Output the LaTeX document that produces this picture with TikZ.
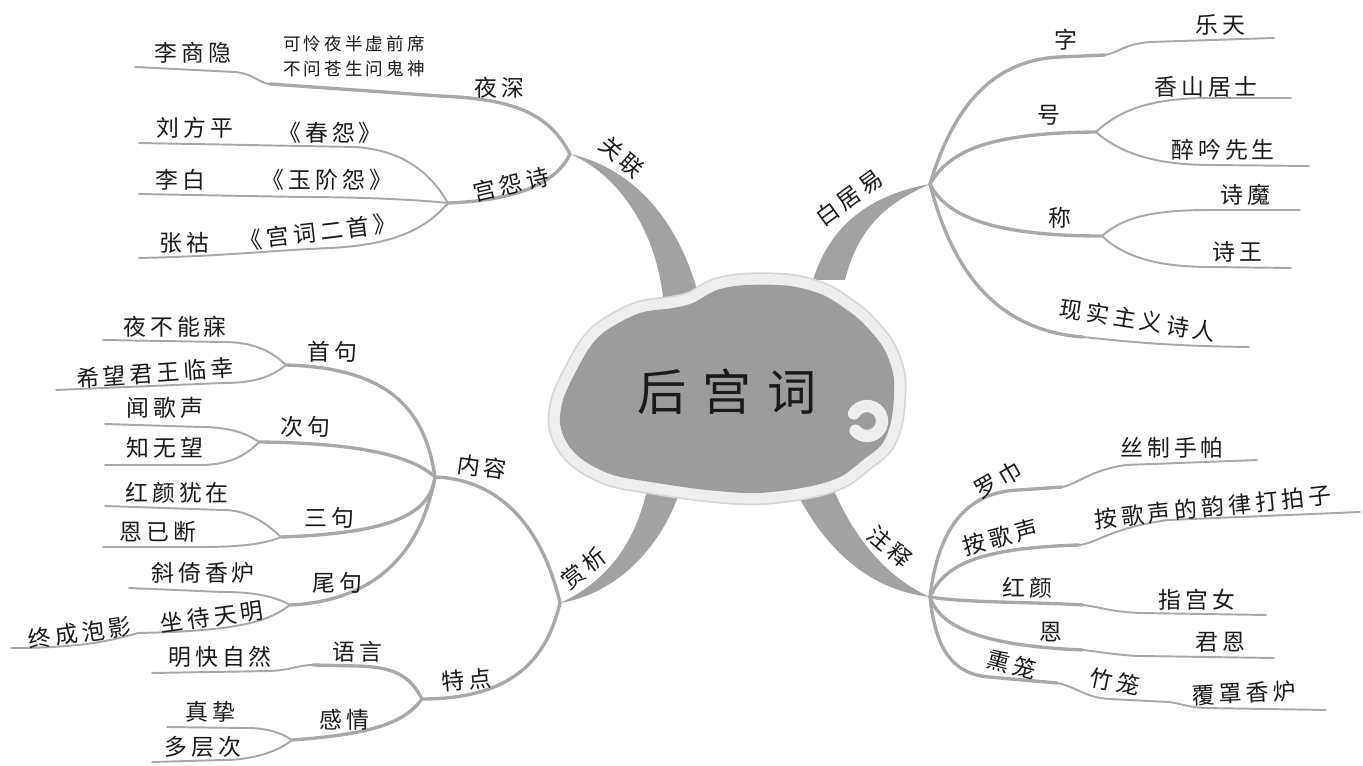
\documentclass[tikz,border=0pt]{standalone}
\usepackage{fontspec}
\usepackage{tikz}
\newfontfamily\cjk[LetterSpace=18]{Noto Sans CJK SC}
\newfontfamily\cjkbig[LetterSpace=32]{Noto Sans CJK SC}
\definecolor{Ink}{HTML}{1A1A1A}
\definecolor{Branch}{HTML}{A8A8A8}
\definecolor{Trunk}{HTML}{A2A2A2}
\definecolor{Cloud}{HTML}{9C9C9C}
\definecolor{Halo}{HTML}{EEEEEE}
\definecolor{HaloEdge}{HTML}{D6D6D6}

\tikzset{
    lbl/.style={font=\cjk\fontsize{13}{15}\selectfont, text=Ink, inner sep=1pt},
    poem/.style={font=\cjk\fontsize{10}{14}\selectfont, text=Ink, inner sep=1pt, align=center},
    title/.style={font=\cjkbig\fontsize{28}{32}\selectfont, text=Ink, inner sep=2pt},
    sub/.style={draw=Branch, line width=1.9pt, line cap=round},
    leaf/.style={draw=Branch, line width=1.1pt, line cap=round},
    trunk/.style={fill=Trunk},
}

\begin{document}
\begin{tikzpicture}[x=0.02cm, y=-0.02cm]
    \useasboundingbox (0,0) rectangle (1363,766);

    % branch points
    \coordinate (jGL) at (570,154);
    \coordinate (jYS) at (270,84);
    \coordinate (jGYS) at (448,203);
    \coordinate (jBJY) at (930,184);
    \coordinate (jZi) at (1105,55);
    \coordinate (jHao) at (1096,132);
    \coordinate (jCheng) at (1102,236);
    \coordinate (jXSZ) at (1083,337);
    \coordinate (jZS) at (930,597);
    \coordinate (jLJ) at (1062,487);
    \coordinate (jAG) at (1079,545);
    \coordinate (jHY) at (1083,605);
    \coordinate (jEn) at (1083,650);
    \coordinate (jXL) at (1057,683);
    \coordinate (jZL) at (1168,702);
    \coordinate (jSX) at (560,603);
    \coordinate (jNR) at (435,477);
    \coordinate (jSJ) at (286,365);
    \coordinate (jCJ) at (259,442);
    \coordinate (jSanJ) at (281,537);
    \coordinate (jWJ) at (290,605);
    \coordinate (jZD) at (138,633);
    \coordinate (jTD) at (422,699);
    \coordinate (jYY) at (313,665);
    \coordinate (jGQ) at (292,740);

    % free ends
    \coordinate (eLSY) at (135,67);
    \coordinate (eLFP) at (139,143);
    \coordinate (eLB) at (139,194);
    \coordinate (eZH) at (139,258);
    \coordinate (eLT) at (1274,38);
    \coordinate (eXS) at (1291,98);
    \coordinate (eZY) at (1309,166);
    \coordinate (eSM) at (1300,210);
    \coordinate (eSW) at (1291,268);
    \coordinate (eXSZ) at (1249,347);
    \coordinate (eSZ) at (1257,460);
    \coordinate (eAG) at (1360,512);
    \coordinate (eZGN) at (1266,615);
    \coordinate (eJE) at (1274,658);
    \coordinate (eFZ) at (1326,710);
    \coordinate (eYB) at (103,340);
    \coordinate (eXW) at (56,390);
    \coordinate (eWG) at (105,424);
    \coordinate (eZW) at (105,465);
    \coordinate (eHY) at (105,506);
    \coordinate (eEY) at (103,547);
    \coordinate (eXY) at (129,588);
    \coordinate (eZC) at (11,648);
    \coordinate (eMK) at (152,673);
    \coordinate (eZZ) at (167,727);
    \coordinate (eDC) at (152,762);

    % thick trunks
    \fill[trunk] (jGL) .. controls (620,175) and (660,235) .. (664,310) -- (702,310) .. controls (685,230) and (640,170) .. (jGL) -- cycle;
    \fill[trunk] (813,280) .. controls (830,225) and (870,195) .. (jBJY) .. controls (895,200) and (860,220) .. (845,280) -- cycle;
    \fill[trunk] (786,470) .. controls (820,550) and (870,590) .. (jZS) .. controls (880,575) and (845,525) .. (826,470) -- cycle;
    \fill[trunk] (648,485) .. controls (635,550) and (600,585) .. (jSX) .. controls (610,595) and (660,555) .. (682,485) -- cycle;

    % cloud
    \path[preaction={draw=HaloEdge, line width=14pt}, preaction={draw=Halo, line width=12pt}, fill=Cloud]
        plot[smooth cycle, tension=0.55] coordinates {(560,423) (563,400) (573,377) (590,347) (607,330) (640,313) (673,308) (693,303) (717,290) (747,285) (790,286) (823,295) (847,310) (863,323) (883,347) (893,373) (894,395) (891,422) (882,444) (863,460) (840,477) (807,487) (757,493) (707,490) (657,483) (613,475) (583,460) (567,443)};
    \draw[Halo, line width=7pt, line cap=round] (867,421) ++(-150:15) arc[start angle=-150, end angle=140, radius=15];
    \node[title] (hgc) at (727,392) {后宫词};

    % 关联
    \draw[sub] (jGL) .. controls (548,112) and (512,99) .. (440,96) -- (jYS);
    \draw[leaf] (jYS) .. controls (258,83) and (255,74) .. (235,72) -- (eLSY);
    \draw[sub] (jGL) .. controls (560,176) and (530,200) .. (jGYS);
    \draw[leaf] (jGYS) .. controls (430,172) and (402,150) .. (355,147) -- (eLFP);
    \draw[leaf] (jGYS) .. controls (410,199) and (350,197) .. (300,197) -- (eLB);
    \draw[leaf] (jGYS) .. controls (425,230) and (392,245) .. (330,248) .. controls (262,251) and (228,256) .. (eZH);

    % 白居易
    \draw[sub] (jBJY) .. controls (950,118) and (985,60) .. (1060,57) -- (jZi);
    \draw[leaf] (jZi) .. controls (1118,53) and (1124,44) .. (1150,42) -- (eLT);
    \draw[sub] (jBJY) .. controls (950,150) and (990,133) .. (jHao);
    \draw[leaf] (jHao) .. controls (1120,110) and (1150,98) .. (1211,98) -- (eXS);
    \draw[leaf] (jHao) .. controls (1122,155) and (1160,165) .. (1211,165) -- (eZY);
    \draw[sub] (jBJY) .. controls (945,215) and (990,236) .. (jCheng);
    \draw[leaf] (jCheng) .. controls (1125,215) and (1160,210) .. (1211,210) -- (eSM);
    \draw[leaf] (jCheng) .. controls (1125,258) and (1160,267) .. (1211,267) -- (eSW);
    \draw[sub] (jBJY) .. controls (950,262) and (990,330) .. (jXSZ);
    \draw[leaf] (jXSZ) .. controls (1130,342) and (1170,346) .. (eXSZ);

    % 注释
    \draw[sub] (jZS) .. controls (938,530) and (965,492) .. (1019,490) -- (jLJ);
    \draw[leaf] (jLJ) .. controls (1078,484) and (1090,470) .. (1126,465) -- (eSZ);
    \draw[sub] (jZS) .. controls (945,562) and (985,548) .. (jAG);
    \draw[leaf] (jAG) .. controls (1098,543) and (1110,528) .. (1168,520) -- (eAG);
    \draw[sub] (jZS) .. controls (965,603) and (1040,602) .. (jHY);
    \draw[leaf] (jHY) .. controls (1100,607) and (1112,612) .. (1140,613) -- (eZGN);
    \draw[sub] (jZS) .. controls (940,628) and (985,646) .. (jEn);
    \draw[leaf] (jEn) .. controls (1102,652) and (1115,655) .. (1140,656) -- (eJE);
    \draw[sub] (jZS) .. controls (935,645) and (950,674) .. (989,677) -- (jXL);
    \draw[leaf] (jXL) .. controls (1075,686) and (1085,698) .. (1110,699) -- (jZL);
    \draw[leaf] (jZL) .. controls (1180,703) and (1186,707) .. (1205,708) -- (eFZ);

    % 赏析
    \draw[sub] (jSX) .. controls (548,550) and (515,480) .. (jNR);
    \draw[sub] (jSX) .. controls (548,652) and (520,699) .. (jTD);
    \draw[sub] (jNR) .. controls (425,410) and (390,368) .. (jSJ);
    \draw[leaf] (jSJ) .. controls (270,350) and (252,342) .. (223,342) -- (eYB);
    \draw[leaf] (jSJ) .. controls (270,378) and (252,383) .. (223,383) -- (eXW);
    \draw[sub] (jNR) .. controls (412,456) and (360,443) .. (jCJ);
    \draw[leaf] (jCJ) .. controls (245,432) and (226,427) .. (201,427) -- (eWG);
    \draw[leaf] (jCJ) .. controls (245,457) and (226,465) .. (201,465) -- (eZW);
    \draw[sub] (jNR) .. controls (430,510) and (402,533) .. (jSanJ);
    \draw[leaf] (jSanJ) .. controls (265,522) and (247,510) .. (223,510) -- (eHY);
    \draw[leaf] (jSanJ) .. controls (265,544) and (240,547) .. (201,547) -- (eEY);
    \draw[sub] (jNR) .. controls (425,530) and (395,600) .. (jWJ);
    \draw[leaf] (jWJ) .. controls (276,597) and (256,592) .. (223,592) -- (eXY);
    \draw[leaf] (jWJ) .. controls (270,620) and (245,631) .. (jZD);
    \draw[leaf] (jZD) .. controls (110,641) and (80,648) .. (eZC);
    \draw[sub] (jTD) .. controls (410,676) and (395,667) .. (357,666) -- (jYY);
    \draw[leaf] (jYY) .. controls (298,665) and (292,670) .. (270,671) -- (eMK);
    \draw[sub] (jTD) .. controls (405,722) and (375,734) .. (jGQ);
    \draw[leaf] (jGQ) .. controls (280,732) and (266,728) .. (246,728) -- (eZZ);
    \draw[leaf] (jGQ) .. controls (280,750) and (256,760) .. (223,760) -- (eDC);

    % labels
    \node[lbl] (lsy) at (193,53) {李商隐};
    \node[poem] (shi) at (354,56) {可怜夜半虚前席\\不问苍生问鬼神};
    \node[lbl] (ys) at (499,88) {夜深};
    \node[lbl, rotate=-41] (gl) at (622,157) {关联};
    \node[lbl] (lfp) at (195,128) {刘方平};
    \node[lbl] (cy) at (330,133) {《春怨》};
    \node[lbl] (lb) at (180,180) {李白};
    \node[lbl] (yjy) at (327,180) {《玉阶怨》};
    \node[lbl] (zh) at (184,243) {张祜};
    \node[lbl, rotate=7] (gc) at (318,232) {《宫词二首》};
    \node[lbl, rotate=13] (gys) at (511,184) {宫怨诗};

    \node[lbl, rotate=36] (bjy) at (849,198) {白居易};
    \node[lbl] (zi) at (1066,40) {字};
    \node[lbl] (lt) at (1220,25) {乐天};
    \node[lbl] (hao) at (1049,115) {号};
    \node[lbl] (xs) at (1206,87) {香山居士};
    \node[lbl] (zy) at (1223,150) {醉吟先生};
    \node[lbl] (cheng) at (1060,218) {称};
    \node[lbl] (sm) at (1245,195) {诗魔};
    \node[lbl] (sw) at (1237,252) {诗王};
    \node[lbl, rotate=-9] (xszy) at (1138,320) {现实主义诗人};

    \node[lbl, rotate=-40] (zs) at (890,547) {注释};
    \node[lbl, rotate=30] (lj) at (998,480) {罗巾};
    \node[lbl] (szsp) at (1172,448) {丝制手帕};
    \node[lbl, rotate=15] (ags) at (1000,537) {按歌声};
    \node[lbl, rotate=6] (dpz) at (1213,507) {按歌声的韵律打拍子};
    \node[lbl] (hy) at (1027,588) {红颜};
    \node[lbl] (zgn) at (1197,600) {指宫女};
    \node[lbl] (en) at (1051,632) {恩};
    \node[lbl] (je) at (1220,642) {君恩};
    \node[lbl, rotate=-15] (xl) at (1012,665) {熏笼};
    \node[lbl, rotate=-12] (zl) at (1115,682) {竹笼};
    \node[lbl, rotate=3] (fz) at (1244,693) {覆罩香炉};

    \node[lbl, rotate=38] (sx) at (584,568) {赏析};
    \node[lbl, rotate=-8] (nr) at (482,467) {内容};
    \node[lbl, rotate=5] (td) at (467,680) {特点};
    \node[lbl] (sj) at (332,352) {首句};
    \node[lbl] (yb) at (175,327) {夜不能寐};
    \node[lbl, rotate=4] (xw) at (155,373) {希望君王临幸};
    \node[lbl] (cj) at (305,427) {次句};
    \node[lbl] (wgs) at (165,408) {闻歌声};
    \node[lbl] (zww) at (165,448) {知无望};
    \node[lbl] (sanj) at (329,518) {三句};
    \node[lbl] (hyyz) at (177,493) {红颜犹在};
    \node[lbl] (eyd) at (158,532) {恩已断};
    \node[lbl] (wj) at (337,583) {尾句};
    \node[lbl] (xy) at (203,573) {斜倚香炉};
    \node[lbl, rotate=8] (zd) at (212,617) {坐待天明};
    \node[lbl, rotate=8] (zc) at (80,633) {终成泡影};
    \node[lbl] (yy) at (357,652) {语言};
    \node[lbl] (mk) at (220,657) {明快自然};
    \node[lbl] (gq) at (344,720) {感情};
    \node[lbl] (zz) at (210,712) {真挚};
    \node[lbl] (dc) at (203,747) {多层次};
\end{tikzpicture}
\end{document}
